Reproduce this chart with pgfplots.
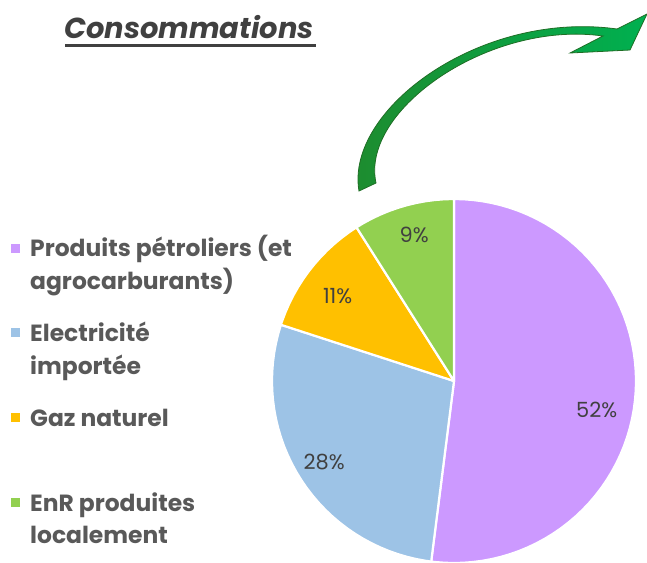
\documentclass[border=0pt]{standalone}
\usepackage{fontspec}
\setmainfont{Poppins}
\usepackage{pgfplots}
\pgfplotsset{compat=1.18}
\usepgfplotslibrary{polar}
\definecolor{cPet}{HTML}{CC99FF}
\definecolor{cElec}{HTML}{9DC3E6}
\definecolor{cGaz}{HTML}{FFC000}
\definecolor{cEnR}{HTML}{92D050}
\definecolor{txt}{HTML}{595959}
\definecolor{lab}{HTML}{404040}
\definecolor{arrDark}{HTML}{1E8B2E}
\definecolor{arrLight}{HTML}{00B050}
\definecolor{arrEdge}{HTML}{1F6E25}
\begin{document}
\begin{tikzpicture}
\path[use as bounding box] (0,0) rectangle (647bp,-563bp);
% title
\node[anchor=base west, font=\bfseries\itshape\fontsize{29}{33}\selectfont, text=lab, inner sep=0] at (64bp,-38bp) {Consommations};
\draw[lab, line width=3bp] (65bp,-45bp) -- (316bp,-45bp);
% arrow
\shadedraw[left color=arrDark, right color=arrLight, draw=arrEdge, line width=0.8bp]
 (359bp,-191bp) .. controls (345bp,-110bp) and (480bp,-10bp) .. (617bp,-29bp)
 -- (647bp,-14bp) -- (630bp,-50bp) -- (570bp,-53bp) -- (603bp,-36bp)
 .. controls (490bp,-20bp) and (360bp,-110bp) .. (376bp,-183bp) -- cycle;
% legend
\begin{scope}[every node/.style={anchor=base west, inner sep=0, text=txt, font=\bfseries\fontsize{23.5}{27}\selectfont}]
\fill[cPet] (11bp,-244bp) rectangle (20bp,-253bp);
\node at (30bp,-256bp) {Produits pétroliers (et};
\node at (30bp,-289bp) {agrocarburants)};
\fill[cElec] (11bp,-328bp) rectangle (20bp,-337bp);
\node at (30bp,-341bp) {Electricité};
\node at (30bp,-374bp) {importée};
\fill[cGaz] (11bp,-413bp) rectangle (20bp,-422bp);
\node at (30bp,-426bp) {Gaz naturel};
\fill[cEnR] (11bp,-498bp) rectangle (20bp,-507bp);
\node at (30bp,-511bp) {EnR produites};
\node at (30bp,-543bp) {localement};
\end{scope}
\begin{polaraxis}[at={(454bp,-381bp)}, anchor=center, scale only axis,
  width=364bp, height=364bp, hide axis, ymin=0, ymax=1, clip=false]
\addplot[fill=cPet, draw=white, line width=2.2bp, mark=none] coordinates {
(0,0) (90,1) (87,1) (84,1) (81,1) (78,1) (75,1) (72,1) (69,1) (66,1) (63,1) (60,1) (57,1) (54,1) (51,1) (48,1) (45,1) (42,1) (39,1) (36,1) (33,1) (30,1) (27,1) (24,1) (21,1) (18,1) (15,1) (12,1) (9,1) (6,1) (3,1) (0,1) (-3,1) (-6,1) (-9,1) (-12,1) (-15,1) (-18,1) (-21,1) (-24,1) (-27,1) (-30,1) (-33,1) (-36,1) (-39,1) (-42,1) (-45,1) (-48,1) (-51,1) (-54,1) (-57,1) (-60,1) (-63,1) (-66,1) (-69,1) (-72,1) (-75,1) (-78,1) (-81,1) (-84,1) (-87,1) (-90,1) (-93,1) (-96,1) (-97.2,1) (0,0)};
\addplot[fill=cElec, draw=white, line width=2.2bp, mark=none] coordinates {
(0,0) (162,1) (165,1) (168,1) (171,1) (174,1) (177,1) (180,1) (183,1) (186,1) (189,1) (192,1) (195,1) (198,1) (201,1) (204,1) (207,1) (210,1) (213,1) (216,1) (219,1) (222,1) (225,1) (228,1) (231,1) (234,1) (237,1) (240,1) (243,1) (246,1) (249,1) (252,1) (255,1) (258,1) (261,1) (262.8,1) (0,0)};
\addplot[fill=cGaz, draw=white, line width=2.2bp, mark=none] coordinates {
(0,0) (122.4,1) (125,1) (128,1) (131,1) (134,1) (137,1) (140,1) (143,1) (146,1) (149,1) (152,1) (155,1) (158,1) (161,1) (162,1) (0,0)};
\addplot[fill=cEnR, draw=white, line width=2.2bp, mark=none] coordinates {
(0,0) (90,1) (93,1) (96,1) (99,1) (102,1) (105,1) (108,1) (111,1) (114,1) (117,1) (120,1) (122.4,1) (0,0)};
\node[text=lab, font=\fontsize{21}{25}\selectfont] at (axis cs:-11.5,0.8) {52\%};
\node[text=lab, font=\fontsize{21}{25}\selectfont] at (axis cs:211.9,0.84) {28\%};
\node[text=lab, font=\fontsize{21}{25}\selectfont] at (axis cs:144,0.79) {11\%};
\node[text=lab, font=\fontsize{21}{25}\selectfont] at (axis cs:105.3,0.83) {9\%};
\end{polaraxis}
\end{tikzpicture}
\end{document}
